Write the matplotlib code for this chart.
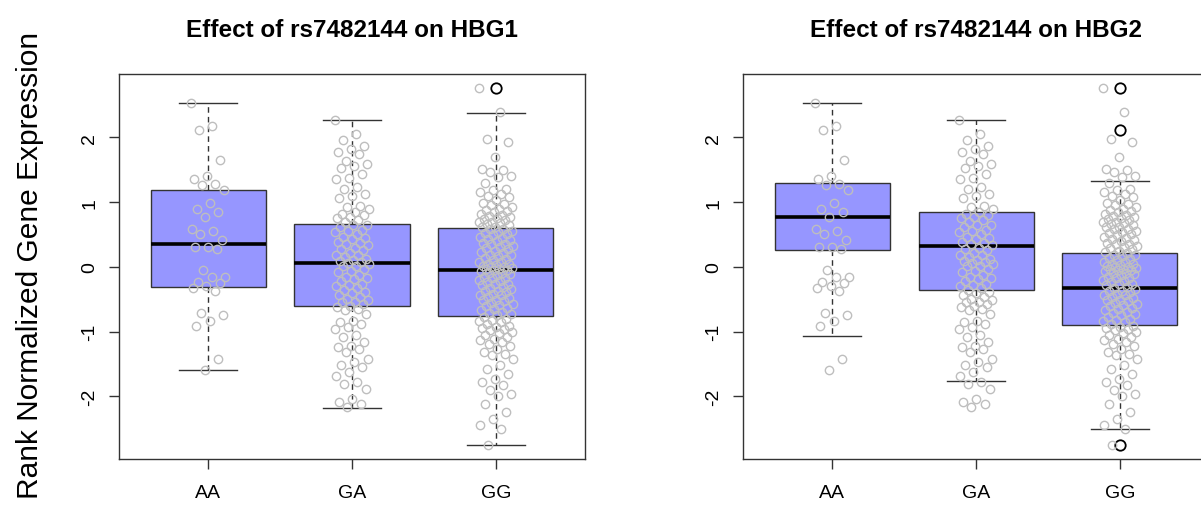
import numpy as np
import matplotlib
matplotlib.use("Agg")
import matplotlib.pyplot as plt

plt.rcParams['font.family'] = ['Liberation Sans', 'DejaVu Sans']

# genotype groups
genotypes = ['AA', 'GA', 'GG']
genes = ['HBG1', 'HBG2']

# box statistics (per genotype)
hbg1_lo = [-1.59, -2.18, -2.75]
hbg1_q1 = [-0.31, -0.60, -0.76]
hbg1_med = [0.36, 0.06, -0.05]
hbg1_q3 = [1.19, 0.665, 0.60]
hbg1_hi = [2.53, 2.27, 2.38]
hbg1_out = [[], [], [2.76]]

hbg2_lo = [-1.07, -1.77, -2.51]
hbg2_q1 = [0.26, -0.355, -0.905]
hbg2_med = [0.77, 0.32, -0.32]
hbg2_q3 = [1.30, 0.85, 0.22]
hbg2_hi = [2.53, 2.27, 1.33]
hbg2_out = [[], [], [2.76, 2.11, -2.75]]

# jittered sample points (same samples shown on both panels)
pts_AA = [2.53, 2.18, 2.12, 1.65, 1.40, 1.35, 1.28, 1.27, 1.19, 0.98, 0.90, 0.84,
          0.77, 0.58, 0.55, 0.50, 0.41, 0.30, 0.31, 0.27, -0.05, -0.16, -0.16,
          -0.23, -0.25, -0.30, -0.33, -0.37, -0.71, -0.74, -0.83, -0.92, -1.43, -1.60]

pts_GA = [2.27, 2.06, 1.96, 1.87, 1.82, 1.78, 1.74, 1.64, 1.59, 1.56, 1.53, 1.44,
          1.37, 1.36, 1.23, 1.20, 1.13, 1.10, 1.07, 0.94, 0.92, 0.90, 0.85, 0.82,
          0.80, 0.77, 0.75, 0.72, 0.70,
          0.65, 0.64, 0.61, 0.57, 0.55, 0.54, 0.50, 0.46, 0.45, 0.43, 0.39, 0.37,
          0.36, 0.33, 0.29, 0.27, 0.26, 0.22, 0.19, 0.18, 0.15, 0.12, 0.11, 0.09,
          0.07, 0.06,
          0.05, 0.02, 0.01, -0.04, -0.06, -0.08, -0.12, -0.15, -0.17, -0.19, -0.22,
          -0.26, -0.28, -0.30, -0.32, -0.36, -0.39, -0.41, -0.43, -0.47, -0.49,
          -0.51, -0.54, -0.55, -0.58, -0.60,
          -0.62, -0.65, -0.67, -0.73, -0.83, -0.86, -0.88, -0.93, -0.96, -1.06,
          -1.09, -1.16, -1.22, -1.24, -1.27, -1.32, -1.42, -1.47, -1.52, -1.55,
          -1.63, -1.68, -1.78, -1.81, -1.89, -2.04, -2.09, -2.12, -2.17]

pts_GG = [2.76, 2.39, 1.97, 1.93, 1.70, 1.51, 1.49, 1.47, 1.41, 1.39, 1.30, 1.21,
          1.18, 1.15, 1.13, 1.10, 1.08, 1.03, 0.99, 0.97, 0.95, 0.92, 0.90, 0.88,
          0.87, 0.84, 0.82, 0.80, 0.79, 0.77, 0.75, 0.74, 0.72, 0.70, 0.69, 0.67,
          0.66, 0.64, 0.62, 0.61,
          0.59, 0.58, 0.55, 0.54, 0.53, 0.50, 0.49, 0.46, 0.45, 0.43, 0.41, 0.40,
          0.37, 0.36, 0.35, 0.32, 0.31, 0.29, 0.27, 0.24, 0.23, 0.22, 0.19, 0.18,
          0.16, 0.13, 0.12, 0.11, 0.08, 0.07, 0.05, 0.04, 0.03, 0.01, 0.00, -0.01,
          -0.02, -0.03, -0.04, -0.045,
          -0.05, -0.07, -0.09, -0.10, -0.11, -0.13, -0.16, -0.17, -0.18, -0.21,
          -0.22, -0.24, -0.26, -0.27, -0.28, -0.31, -0.33, -0.34, -0.37, -0.38,
          -0.39, -0.42, -0.43, -0.44, -0.47, -0.48, -0.51, -0.52, -0.53, -0.56,
          -0.58, -0.59, -0.61, -0.64, -0.65, -0.67, -0.70, -0.71, -0.73, -0.75,
          -0.78, -0.80, -0.82, -0.83, -0.86, -0.88, -0.91, -0.93, -0.94, -0.96,
          -0.98, -1.01, -1.03, -1.06, -1.08, -1.11, -1.13, -1.16, -1.19, -1.22,
          -1.27, -1.32, -1.34, -1.37, -1.42, -1.52, -1.58, -1.65, -1.73, -1.78,
          -1.83, -1.91, -1.96, -1.99, -2.12, -2.25, -2.35, -2.45, -2.50, -2.75]

points = [pts_AA, pts_GA, pts_GG]

box_color = '#9696FF'
edge = '#333333'
pt_color = '#BEBEBE'


def make_stats(lo, q1, med, q3, hi, out):
    stats = []
    for i in range(len(genotypes)):
        stats.append(dict(whislo=lo[i], q1=q1[i], med=med[i], q3=q3[i],
                          whishi=hi[i], fliers=out[i], label=genotypes[i]))
    return stats


def jitter(n):
    # evenly scattered horizontal offsets (golden ratio sequence)
    return ((np.arange(n) * 0.6180339887) % 1.0 - 0.5) * 0.24


fig = plt.figure(figsize=(12.01, 5.10), dpi=100)
ax1 = fig.add_axes([0.0991, 0.098, 0.388, 0.755])
ax2 = fig.add_axes([0.6187, 0.098, 0.388, 0.755])

panels = [
    (ax1, make_stats(hbg1_lo, hbg1_q1, hbg1_med, hbg1_q3, hbg1_hi, hbg1_out), genes[0]),
    (ax2, make_stats(hbg2_lo, hbg2_q1, hbg2_med, hbg2_q3, hbg2_hi, hbg2_out), genes[1]),
]

for ax, stats, gene in panels:
    ax.bxp(stats, positions=[1, 2, 3], widths=0.8, capwidths=0.4, patch_artist=True,
           boxprops=dict(facecolor=box_color, edgecolor=edge, linewidth=1.0),
           whiskerprops=dict(color=edge, linewidth=1.0, linestyle=(0, (4, 3))),
           capprops=dict(color=edge, linewidth=1.0),
           medianprops=dict(color='black', linewidth=2.6),
           flierprops=dict(marker='o', markerfacecolor='none', markeredgecolor='black',
                           markersize=7.5, markeredgewidth=1.3))
    for i, vals in enumerate(points):
        x = (i + 1) + jitter(len(vals))
        ax.plot(x, vals, 'o', mfc='none', mec=pt_color, ms=6, mew=1.0, zorder=4)

    ax.set_xlim(0.38, 3.62)
    ax.set_ylim(-2.97, 2.98)
    ax.set_xticks([1, 2, 3])
    ax.set_xticklabels(genotypes, fontsize=14)
    ax.set_yticks([-2, -1, 0, 1, 2])
    ax.set_yticklabels(['-2', '-1', '0', '1', '2'], fontsize=14, rotation=90, va='center')
    ax.tick_params(axis='both', direction='out', length=7, width=1, color=edge)
    ax.tick_params(axis='x', pad=11)
    ax.tick_params(axis='y', pad=8)
    for s in ax.spines.values():
        s.set_color(edge)
        s.set_linewidth(1.0)
    ax.set_title('Effect of rs7482144 on ' + gene, fontsize=17.5, fontweight='bold', pad=27)

fig.text(30 / 1201, 0.48, 'Rank Normalized Gene Expression', rotation=90,
         ha='center', va='center', fontsize=21.5)

fig.savefig('out.png', dpi=100)
